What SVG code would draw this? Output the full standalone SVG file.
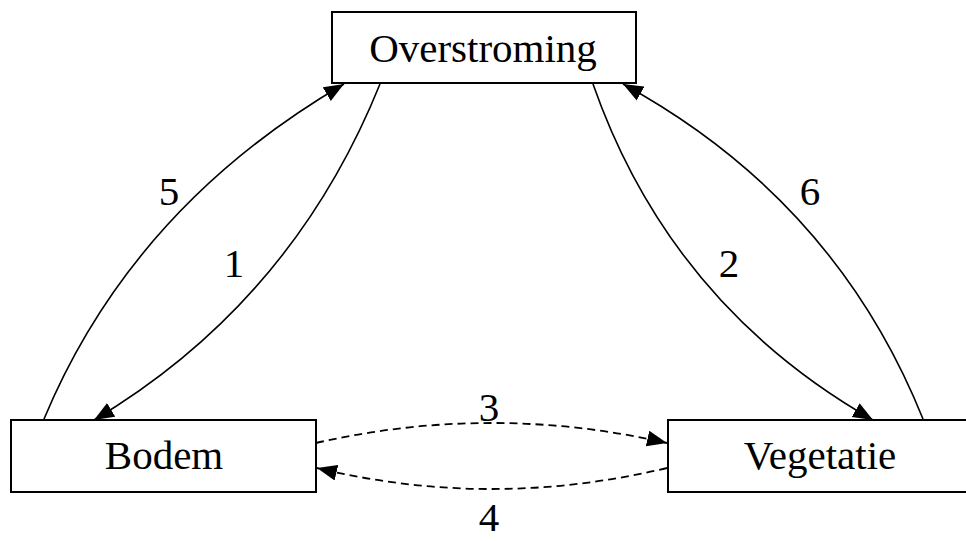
<svg xmlns="http://www.w3.org/2000/svg" width="966" height="541" viewBox="0 0 966 541">
<style>
.box{fill:#fff;stroke:#000;stroke-width:2}
.t{font-family:"Liberation Serif","Times New Roman",serif;font-size:41px;fill:#000;text-anchor:middle}
.e{fill:none;stroke:#000;stroke-width:1.6}
.d{stroke-dasharray:8,5;stroke-width:1.8}
</style>
<defs>
<marker id="ah" markerUnits="userSpaceOnUse" markerWidth="21" markerHeight="17" refX="20" refY="8" orient="auto">
<path d="M0,0 L20,8 L0,16 z" fill="#000"/>
</marker>
</defs>
<rect width="966" height="541" fill="#fff"/>
<g id="overstroming">
<rect class="box" x="332" y="12" width="304" height="71"/>
<text class="t" x="483" y="62">Overstroming</text>
</g>
<g id="bodem">
<rect class="box" x="11" y="420" width="305" height="72"/>
<text class="t" x="164" y="469">Bodem</text>
</g>
<g id="vegetatie">
<rect class="box" x="668" y="420" width="305" height="72"/>
<text class="t" x="820" y="469">Vegetatie</text>
</g>
<g id="connectors">
<path class="e" d="M44,419 Q132,208 344,84" marker-end="url(#ah)"/>
<path class="e" d="M380,84 Q292,302 94,420" marker-end="url(#ah)"/>
<path class="e" d="M593,84 Q670,304 873,420" marker-end="url(#ah)"/>
<path class="e" d="M923,419 Q835,200 623,84" marker-end="url(#ah)"/>
<path class="e d" d="M316,443 Q491,403 667,443" marker-end="url(#ah)"/>
<path class="e d" d="M667,468 Q491,510 317,468" marker-end="url(#ah)"/>
<text class="t" x="169" y="205">5</text>
<text class="t" x="234" y="277">1</text>
<text class="t" x="729" y="277">2</text>
<text class="t" x="810" y="205">6</text>
<text class="t" x="489" y="421">3</text>
<text class="t" x="489" y="531">4</text>
</g>
</svg>
